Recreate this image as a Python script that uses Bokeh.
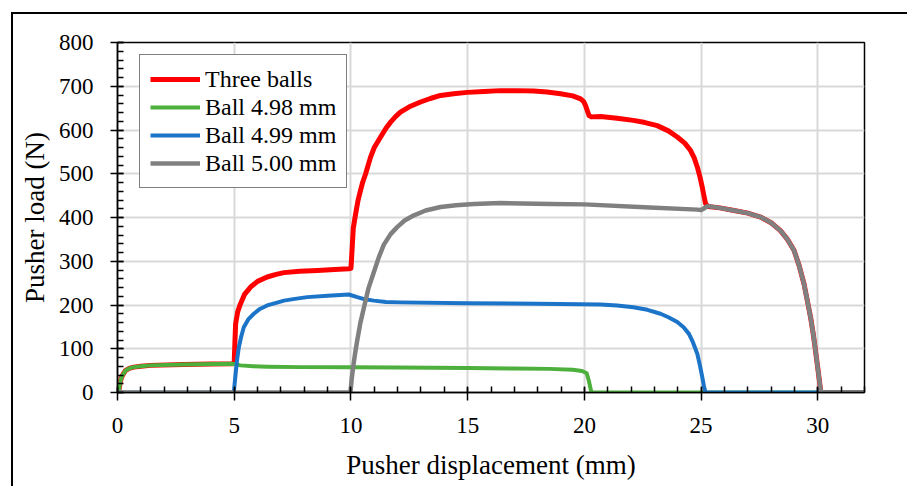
from bokeh.plotting import figure
from bokeh.models import FixedTicker, Legend, LegendItem, Range1d
from bokeh.embed import file_html
from bokeh.resources import INLINE

# ---- data ----
three_x = [0, 0.03, 0.06, 0.1, 0.13, 0.2, 0.34, 0.5, 0.7, 1.0, 1.41, 2.84, 4.0, 4.9, 4.98,
           5.0, 5.03, 5.06, 5.15, 5.27, 5.45, 5.7, 6.0, 6.41, 6.8, 7.13, 7.8, 8.56, 9.3, 9.91,
           10.0, 10.02, 10.1, 10.2, 10.3, 10.41, 10.5, 10.63, 10.84, 11.0, 11.27, 11.5, 11.7,
           11.9, 12.12, 12.5, 12.98, 13.4, 13.84, 14.4, 14.98, 15.7, 16.4, 17.1, 17.83, 18.4,
           18.98, 19.5, 19.84, 19.97, 20.05, 20.12, 20.2, 20.3, 20.69, 21.4, 22.1, 22.6, 23.12,
           23.6, 23.98, 24.3, 24.55, 24.7, 24.84, 24.95, 25.05, 25.12, 25.19, 25.3, 25.8, 26.41,
           27.0, 27.55, 28.0, 28.4, 28.7, 28.98, 29.2, 29.41, 29.55, 29.69, 29.8, 29.9, 30.0,
           30.12, 30.2, 32]
three_y = [0, 2, 5, 18, 27, 38, 50, 55, 58, 60, 62, 64, 65, 65.5, 66,
           70, 115, 157, 185, 203, 225, 241, 254, 264, 270, 274, 277, 279, 281, 283,
           284, 300, 375, 408, 438, 462, 480, 500, 538, 560, 584, 604, 618,
           630, 641, 653, 664, 672, 679, 683, 686, 688, 690, 690, 689, 687,
           683, 678, 671, 665, 656, 645, 633, 630, 631, 627, 622, 617, 610,
           598, 584, 570, 553, 537, 515, 493, 469, 450, 432, 425, 422, 416,
           410, 401, 388, 370, 350, 325, 290, 248, 210, 172, 135, 96, 55,
           5, 0, 0]

b498_x = [0, 0.03, 0.06, 0.1, 0.13, 0.2, 0.34, 0.5, 0.7, 1.0, 1.41, 2.84, 4.84, 5.0, 5.27,
          5.8, 6.41, 7.84, 10.0, 12.0, 15.0, 17.0, 18.5, 19.5, 19.9, 20.1, 20.2, 20.3, 32]
b498_y = [0, 2, 5, 18, 27, 38, 50, 55, 58, 60, 62, 64, 65.6, 65, 62,
          60, 59, 58, 58, 57, 56, 55, 54, 52, 49, 44, 25, 0, 0]

b499_x = [0, 4.98, 5.0, 5.06, 5.13, 5.2, 5.3, 5.41, 5.6, 5.84, 6.1, 6.41, 6.8, 7.13, 7.6, 8.13,
          9.0, 9.91, 10.27, 10.6, 10.98, 11.5, 12.12, 15, 18, 20.69, 21.4, 22.1, 22.7, 23.26,
          23.6, 23.98, 24.25, 24.48, 24.65, 24.84, 24.95, 25.05, 25.12, 25.19, 32]
b499_y = [0, 0, 10, 43, 78, 104, 128, 149, 167, 180, 191, 199, 205, 210, 214, 218,
          221, 224, 218, 213, 210, 207, 206, 204, 203, 201, 199, 195, 189, 180,
          172, 161, 149, 134, 115, 88, 62, 35, 15, 0, 0]

b500_x = [0, 9.98, 10.03, 10.1, 10.18, 10.27, 10.4, 10.56, 10.75, 10.98, 11.2, 11.41, 11.7,
          11.98, 12.3, 12.7, 13.2, 13.84, 14.5, 15.27, 16.4, 18.55, 20.0, 22.8, 24.84, 25.0,
          25.1, 25.27, 25.8, 26.41, 27.0, 27.55, 28.0, 28.4, 28.7, 28.98, 29.2, 29.41, 29.55,
          29.69, 29.8, 29.9, 30.0, 30.12, 30.2, 32]
b500_y = [0, 0, 30, 60, 90, 119, 158, 195, 238, 275, 310, 338, 362,
          378, 393, 405, 416, 424, 428, 431, 433, 431, 430, 423, 418, 417,
          420, 426, 422, 416, 410, 401, 388, 370, 350, 325, 290, 248, 210,
          172, 135, 96, 55, 5, 0, 0]

series_names = ["Three balls", "Ball 4.98 mm", "Ball 4.99 mm", "Ball 5.00 mm"]
series_colors = ["#FF0000", "#4DAF3C", "#1C74C9", "#808080"]

x_major = [0, 5, 10, 15, 20, 25, 30]
x_minor = list(range(0, 33, 1))
y_major = list(range(0, 801, 100))
y_minor = list(range(0, 801, 20))

FONT = "Liberation Serif"

p = figure(width=896, height=474, output_backend="svg", toolbar_location=None,
           x_range=Range1d(0, 32), y_range=Range1d(0, 800),
           min_border_left=104, min_border_right=45, min_border_top=28, min_border_bottom=96)
p.styles = {"border-top": "2px solid black", "border-left": "2px solid black",
            "margin-left": "11px", "margin-top": "12px"}
p.background_fill_color = "white"
p.border_fill_color = "white"
p.outline_line_color = "black"
p.outline_line_width = 1.5
p.outline_line_alpha = 1.0

data = [(three_x, three_y), (b498_x, b498_y), (b499_x, b499_y), (b500_x, b500_y)]
widths = [5, 4, 4, 4.5]
items = []
for (xs, ys), name, col, w in zip(data, series_names, series_colors, widths):
    r = p.line(xs, ys, line_color=col, line_width=w, line_join="round")
    items.append(LegendItem(label=name, renderers=[r]))

# axes
for ax, major, minor in ((p.xaxis[0], x_major, x_minor), (p.yaxis[0], y_major, y_minor)):
    ax.ticker = FixedTicker(ticks=major, minor_ticks=minor)
    ax.axis_line_color = "black"
    ax.axis_line_width = 1.5
    ax.major_tick_line_color = "black"
    ax.major_tick_line_width = 1.5
    ax.minor_tick_line_color = "black"
    ax.minor_tick_line_width = 1.5
    ax.minor_tick_out = 0
    ax.minor_tick_in = 6
    ax.major_label_text_font = FONT
    ax.major_label_text_font_size = "23px"
    ax.major_label_text_color = "black"
    ax.axis_label_text_font = FONT
    ax.axis_label_text_font_size = "27px"
    ax.axis_label_text_font_style = "normal"
    ax.axis_label_text_color = "black"

p.xaxis.axis_label = "Pusher displacement (mm)"
p.yaxis.axis_label = "Pusher load (N)"
p.xaxis.major_tick_in = 5
p.xaxis.major_tick_out = 8
p.xaxis.major_label_standoff = 17
p.xaxis.axis_label_standoff = 14
p.yaxis.major_tick_in = 6
p.yaxis.major_tick_out = 7
p.yaxis.major_label_standoff = 17
p.yaxis.axis_label_standoff = 6

p.xgrid.ticker = FixedTicker(ticks=x_major)
p.ygrid.ticker = FixedTicker(ticks=y_major)
p.grid.grid_line_color = "#D9D9D9"
p.grid.grid_line_width = 2

legend = Legend(items=items, location=(22, 204))
legend.label_text_font = FONT
legend.label_text_font_size = "24px"
legend.label_text_color = "black"
legend.glyph_width = 50
legend.glyph_height = 28
legend.label_height = 28
legend.label_standoff = 5
legend.spacing = 0
legend.padding = 10
legend.margin = 0
legend.border_line_color = "black"
legend.border_line_width = 1.5
legend.background_fill_color = "white"
legend.background_fill_alpha = 1.0
p.add_layout(legend)

open("out.html", "w").write(file_html(p, INLINE))
